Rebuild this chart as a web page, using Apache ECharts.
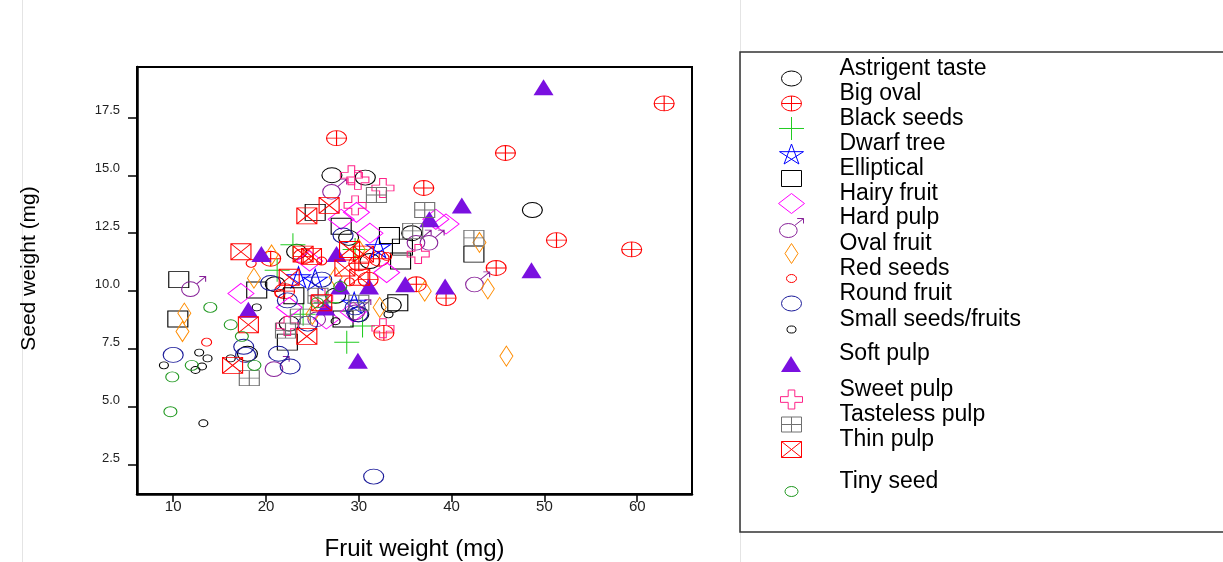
<!DOCTYPE html>
<html>
<head>
<meta charset="UTF-8">
<title>Seed weight vs fruit weight</title>
<script src="https://cdn.jsdelivr.net/npm/echarts@6/dist/echarts.min.js"></script>
<style>
  * { margin: 0; padding: 0; }
  #box { width: 1223px; height: 562px; background: #fff; }
</style>
</head>
<body>
<div id="box"></div>
<script>
var xTicks = [10, 20, 30, 40, 50, 60]
var yTicks = [2.5, 5, 7.5, 10, 12.5, 15, 17.5]

// [fruit weight, seed weight]
var astringent = [[48.7,13.5],[27.1,15.0],[30.7,14.9],[35.7,12.5],[28.9,12.3],[33.5,9.4],[31.2,11.3],[23.3,11.7],[21,10.3],[27.5,9.8],[30,9.0],[22.5,8.6],[18,7.3]]
var bigOval = [[62.9,18.1],[27.6,16.6],[45.8,15.96],[37.0,14.45],[51.3,12.2],[59.4,11.8],[44.8,11.0],[39.4,9.7],[36.2,10.3],[32.7,8.2],[32.2,11.4],[20.5,11.4],[22,10.0],[24,11.5],[30,11.2],[31,10.5]]
var blackSeeds = [[22.9,12.0],[21.2,10.9],[28.7,7.8],[30.4,8.5],[29.6,11.8],[26.5,9.5],[24,9.0]]
var dwarfTree = [[25.3,10.5],[32.1,11.9],[23.5,10.6],[29.5,9.5]]
var elliptical = [[10.6,10.5],[10.5,8.8],[19.0,10.05],[22.3,7.8],[23.0,9.8],[25.3,13.4],[28.1,12.8],[33.3,12.4],[34.7,11.9],[34.5,11.3],[34.2,9.5],[28.3,8.8],[42.4,11.6]]
var hairyFruit = [[17.3,9.9],[24.7,11.3],[28.1,13.1],[29.75,13.4],[31.2,12.5],[33.0,10.8],[29.4,9.1],[38.3,13.1],[39.4,12.9],[26.5,8.8],[22.5,9.3]]
var hardPulp = [[12.2,10.2],[27.4,14.4],[37.9,12.2],[42.8,10.4],[25.8,8.9],[21.2,6.75],[30,9.2],[36.5,12.2]]
var ovalFruit = [[11.2,9.05],[11.0,8.26],[18.7,10.56],[20.6,11.56],[32.25,9.3],[37.1,10.0],[43.0,12.1],[43.9,10.1],[45.9,7.2],[25,9.0],[27.5,10.6],[30,11.8]]
var redSeeds = [[13.6,7.8],[18.4,11.2],[21.5,9.9],[26,11.3],[29,10.4],[33,11.5]]
var roundFruit = [[10.0,7.25],[17.6,7.6],[17.8,7.25],[21.35,7.3],[22.6,6.75],[20.5,10.35],[22.3,9.6],[28.3,12.4],[29.6,9.3],[29.9,9.0],[31.6,2.0],[24.5,8.6],[26,10.5]]
var smallSeeds = [[9.0,6.8],[12.8,7.35],[13.7,7.1],[13.1,6.75],[12.4,6.6],[13.25,4.3],[16.2,7.1],[19.0,9.3],[27.5,8.7],[33.2,9.0]]
var softPulp = [[19.5,11.6],[18.1,9.2],[26.4,9.3],[27.6,11.6],[28.0,10.2],[29.9,7.0],[31.1,10.2],[35.0,10.3],[37.6,13.1],[39.3,10.2],[41.1,13.7],[48.6,10.9],[49.9,18.8]]
var sweetPulp = [[29.2,15.0],[29.9,14.8],[32.6,14.45],[29.6,13.7],[36.4,11.6],[32.6,8.4],[22.3,8.5],[26,9.7]]
var tasteless = [[18.2,6.25],[22.1,8.3],[23.7,8.9],[25.6,9.8],[31.9,14.15],[35.8,12.6],[37.1,13.5],[42.4,12.3],[30,9.5]]
var thinPulp = [[16.4,6.8],[17.3,11.7],[18.1,8.55],[22.5,10.6],[24.0,11.6],[24.9,11.5],[24.4,13.25],[26.8,13.7],[24.4,8.05],[28.5,11.0],[30.1,10.6],[30.5,11.6],[29,11.8],[26,9.5]]
var tinySeed = [[9.7,4.8],[9.9,6.3],[12.0,6.8],[14.0,9.3],[16.2,8.55],[17.4,8.05],[18.75,6.8],[25.5,9.5],[28,10.2]]

// symbol outlines, drawn in a 20x20 box
var ELLIPSE = 'M0,10A10,10,0,1,1,20,10A10,10,0,1,1,0,10Z'
var OVALCROSS = 'M0,10A10,10,0,1,1,20,10A10,10,0,1,1,0,10ZM10,0L10,20M0,10L20,10'
var PLUS = 'M10,0L10,20M0,10L20,10'
var STAR = 'M10,0L15.88,18.09L0.49,6.91L19.51,6.91L4.12,18.09Z'
var BOX = 'M0,0L20,0L20,20L0,20Z'
var DIAMOND = 'M10,0L20,10L10,20L0,10Z'
var MALE = 'M1,13A7,7,0,1,1,15,13A7,7,0,1,1,1,13ZM13,8L20,1M15,1L20,1L20,6'
var TRIANGLE = 'M10,0L20,20L0,20Z'
var SWEET = 'M7,0L13,0L13,7L20,7L20,13L13,13L13,20L7,20L7,13L0,13L0,7L7,7Z'
var GRID = 'M0,0L20,0L20,20L0,20ZM10,0L10,20M0,10L20,10'
var XBOX = 'M0,0L20,0L20,20L0,20ZM0,0L20,20M20,0L0,20'

var kinds = [
  { name: 'Astrigent taste', data: astringent, path: ELLIPSE, size: [20, 15], color: '#000', y: 78 },
  { name: 'Big oval', data: bigOval, path: OVALCROSS, size: [20, 15], color: '#ff0000', y: 103 },
  { name: 'Black seeds', data: blackSeeds, path: PLUS, size: [25, 23], color: '#22cc22', y: 128 },
  { name: 'Dwarf tree', data: dwarfTree, path: STAR, size: [24, 21], color: '#0000ff', y: 153 },
  { name: 'Elliptical', data: elliptical, path: BOX, size: [20, 16], color: '#000', y: 178 },
  { name: 'Hairy fruit', data: hairyFruit, path: DIAMOND, size: [26, 20], color: '#ff00ff', y: 203 },
  { name: 'Hard pulp', data: hardPulp, path: MALE, size: [24, 20], color: '#882299', y: 227 },
  { name: 'Oval fruit', data: ovalFruit, path: DIAMOND, size: [13, 20], color: '#ff8c00', y: 253 },
  { name: 'Red seeds', data: redSeeds, path: ELLIPSE, size: [10, 8], color: '#ff0000', y: 278 },
  { name: 'Round fruit', data: roundFruit, path: ELLIPSE, size: [20, 15], color: '#1a1a99', y: 303 },
  { name: 'Small seeds/fruits', data: smallSeeds, path: ELLIPSE, size: [9, 7], color: '#000', y: 329 },
  { name: 'Soft pulp', data: softPulp, path: TRIANGLE, size: [20, 16], color: '#7a10e0', y: 364, filled: true },
  { name: 'Sweet pulp', data: sweetPulp, path: SWEET, size: [22, 19], color: '#ff2288', y: 399 },
  { name: 'Tasteless pulp', data: tasteless, path: GRID, size: [20, 15], color: '#707070', y: 424 },
  { name: 'Thin pulp', data: thinPulp, path: XBOX, size: [20, 16], color: '#ff0000', y: 449 },
  { name: 'Tiny seed', data: tinySeed, path: ELLIPSE, size: [13, 10], color: '#229922', y: 491 }
]

var LIFT = 20 // empty space on top of each legend icon, so the text sits above the symbol
var series = []
var legends = []
for (let i = 0; i < kinds.length; i++) {
  let k = kinds[i]
  let w = k.size[0], h = k.size[1]
  series.push({
    name: k.name,
    type: 'scatter',
    data: k.data,
    symbol: 'path://' + k.path,
    symbolSize: k.size,
    itemStyle: k.filled
      ? { color: k.color, borderWidth: 0, opacity: 1 }
      : { color: 'rgba(0,0,0,0)', borderColor: k.color, borderWidth: 1, opacity: 1 },
    emphasis: { disabled: true }
  })
  // an empty moveTo above the shape pushes the icon below the text centre
  let pad = (LIFT * 20 / h).toFixed(2)
  legends.push({
    data: [{ name: k.name, icon: 'path://M10,-' + pad + k.path }],
    selectedMode: false,
    symbolKeepAspect: false,
    orient: 'vertical',
    padding: 0,
    left: 791 - w / 2,
    top: k.y - h / 2 - LIFT,
    itemWidth: w,
    itemHeight: h + LIFT,
    itemStyle: { borderWidth: k.filled ? 0 : 1 },
    textStyle: {
      color: '#000',
      fontSize: 23,
      fontFamily: 'Liberation Sans, Arial, sans-serif',
      padding: [0, 0, 0, 43 - w / 2]
    }
  })
}

var mCharts = echarts.init(document.getElementById('box'))
var option = {
  animation: false,
  backgroundColor: '#fff',
  textStyle: { fontFamily: 'Liberation Sans, Arial, sans-serif' },
  grid: {
    left: 137, top: 67, right: 531, bottom: 68,
    outerBoundsMode: 'none',
    containLabel: false,
    show: true, borderColor: '#000', borderWidth: 2
  },
  legend: legends,
  xAxis: {
    type: 'value',
    min: 6.1,
    max: 65.9,
    name: 'Fruit weight (mg)',
    nameLocation: 'middle',
    nameGap: 43,
    nameTextStyle: { fontSize: 24, color: '#000' },
    axisLine: { show: true, onZero: false, lineStyle: { color: '#000', width: 2.5 } },
    axisTick: { show: true, length: 8, customValues: xTicks, lineStyle: { color: '#000', width: 1.5 } },
    axisLabel: { customValues: xTicks, margin: 5, fontSize: 15, color: '#222' },
    splitLine: { show: false }
  },
  yAxis: {
    type: 'value',
    min: 1.25,
    max: 19.67,
    name: 'Seed weight (mg)',
    nameLocation: 'middle',
    nameGap: 97,
    nameTextStyle: { fontSize: 21, color: '#000', padding: [0, 0, 0, 24] },
    axisLine: { show: true, onZero: false, lineStyle: { color: '#000', width: 2.5 } },
    axisTick: { show: true, length: 9, customValues: yTicks, lineStyle: { color: '#000', width: 1.5 } },
    axisLabel: {
      customValues: yTicks,
      margin: 17,
      fontSize: 13,
      color: '#222',
      verticalAlign: 'bottom',
      formatter: function (v) { return v.toFixed(1) }
    },
    splitLine: { show: false }
  },
  graphic: [
    { type: 'line', shape: { x1: 22.5, y1: 0, x2: 22.5, y2: 562 }, style: { stroke: '#e4e4e4', lineWidth: 1 } },
    { type: 'line', shape: { x1: 740.5, y1: 0, x2: 740.5, y2: 562 }, style: { stroke: '#e4e4e4', lineWidth: 1 } },
    { type: 'rect', shape: { x: 740, y: 52, width: 500, height: 480 }, style: { fill: 'none', stroke: '#333', lineWidth: 1.5 } }
  ],
  series: series
}
mCharts.setOption(option)
</script>
</body>
</html>
